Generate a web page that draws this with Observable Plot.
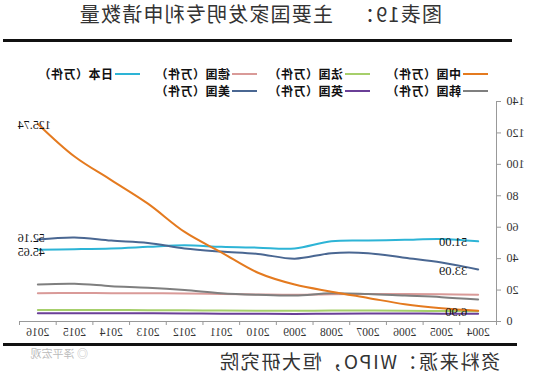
<!DOCTYPE html>
<html><head><meta charset="utf-8">
<script src="https://cdn.jsdelivr.net/npm/d3@7"></script>
<script src="https://cdn.jsdelivr.net/npm/@observablehq/plot@0.6"></script>
<style>
body{margin:0;background:#fff;}
#wrap{position:relative;width:550px;height:376px;overflow:hidden;transform:scaleX(-1);font-family:"Noto Sans CJK SC",sans-serif;background:#fff;}
.abs{position:absolute;white-space:nowrap;}
.title{font-size:20px;line-height:22px;color:#333;letter-spacing:1.2px;}
.rule{position:absolute;height:3px;background:#111;}
.leg{position:absolute;font-size:12px;font-weight:bold;line-height:14px;color:#111;letter-spacing:0.5px;white-space:nowrap;}
.sw{position:absolute;height:2px;width:25px;}
.src{font-size:19px;line-height:20px;color:#333;letter-spacing:1.6px;}
.wm{font-size:11px;color:#bbb;}
#chart{position:absolute;left:0;top:95px;}
</style></head><body>
<div id="wrap">
  <div class="abs title" style="left:108px;top:3px;">图表19：</div>
  <div class="abs title" style="left:217px;top:3px;">主要国家发明专利申请数量</div>
  <div class="rule" style="left:38px;width:509px;top:39px;"></div>
  <div id="legend"></div>
  <div id="chart"></div>
  <div class="rule" style="left:33px;width:514px;top:343px;"></div>
  <div class="abs wm" style="left:462px;top:345px;">◎ 泽平宏观</div>
  <div class="abs src" style="left:50px;top:351px;">资料来源：WIPO，恒大研究院</div>
</div>
<script>
const years = [2004, 2005, 2006, 2007, 2008, 2009, 2010, 2011, 2012, 2013, 2014, 2015, 2016];
const china   = [6.90, 8.5, 11.0, 15.0, 19.0, 23.5, 31.0, 44.0, 57.0, 75.0, 90.0, 105.0, 125.74];
const usa     = [33.09, 37.5, 40.5, 43.5, 43.5, 40.0, 43.0, 44.5, 46.5, 50.0, 51.5, 53.5, 52.16];
const japan   = [51.00, 52.5, 52.0, 51.5, 51.0, 46.5, 47.0, 47.5, 48.5, 47.5, 46.5, 46.0, 45.65];
const korea   = [14.0, 15.5, 16.5, 17.5, 18.0, 16.5, 17.0, 18.0, 20.0, 21.5, 22.5, 24.0, 23.5];
const germany = [17.0, 17.3, 17.5, 17.5, 17.3, 17.0, 17.2, 17.5, 17.8, 18.0, 18.0, 18.2, 18.0];
const france  = [6.6, 6.7, 6.8, 7.0, 7.0, 6.8, 6.9, 7.0, 7.1, 7.2, 7.3, 7.3, 7.3];
const uk      = [5.0, 5.0, 5.1, 5.1, 5.0, 4.8, 4.9, 5.0, 5.1, 5.2, 5.2, 5.3, 5.3];
const yTicks = [0, 20, 40, 60, 80, 100, 120, 140];

const seriesNames = ["日本（万件）", "德国（万件）", "法国（万件）", "韩国（万件）", "英国（万件）", "美国（万件）", "中国（万件）"];
const seriesColors = ["#2db4d6", "#d99a98", "#a6cf6b", "#7f7f7f", "#6a3f97", "#4a6792", "#e47a1f"];
const seriesValues = [japan, germany, france, korea, uk, usa, china];

const legendOrder = [["中国（万件）", "法国（万件）", "德国（万件）", "日本（万件）"], ["韩国（万件）", "英国（万件）", "美国（万件）"]];
const colX = [62, 180, 293, 410];
const rowY = [74, 91];
const legend = document.getElementById("legend");
legendOrder.forEach((row, r) => row.forEach((name, c) => {
  const color = seriesColors[seriesNames.indexOf(name)];
  const sw = document.createElement("div");
  sw.className = "sw"; sw.style.left = colX[c] + "px"; sw.style.top = (rowY[r] - 1) + "px"; sw.style.background = color;
  legend.appendChild(sw);
  const t = document.createElement("div");
  t.className = "leg"; t.textContent = name; t.style.left = (colX[c] + 27) + "px"; t.style.top = (rowY[r] - 7) + "px";
  legend.appendChild(t);
}));

const rows = [];
seriesNames.forEach((name, i) => years.forEach((y, j) => rows.push({series: name, year: y, value: seriesValues[i][j]})));

const endLabels = [
  {year: 2016, value: china[12], text: china[12].toFixed(2), dy: 1},
  {year: 2016, value: usa[12], text: usa[12].toFixed(2), dy: -1},
  {year: 2016, value: japan[12], text: japan[12].toFixed(2), dy: 2}
];
const startLabels = [
  {year: 2004, value: japan[0], text: japan[0].toFixed(2)},
  {year: 2004, value: usa[0], text: usa[0].toFixed(2)},
  {year: 2004, value: china[0], text: china[0].toFixed(2)}
];
const bounds = d3.range(2003.5, 2017, 1);

const chart = Plot.plot({
  width: 550, height: 250,
  marginLeft: 53, marginRight: 20, marginTop: 6, marginBottom: 24,
  style: {fontFamily: "Liberation Serif", fontSize: "12px", color: "#333", background: "transparent"},
  x: {domain: [2003.5, 2016.5]},
  y: {domain: [0, 140]},
  color: {domain: seriesNames, range: seriesColors},
  marks: [
    Plot.ruleY([0], {stroke: "#999"}),
    Plot.ruleX([2003.5], {y1: 0, y2: 140, stroke: "#999"}),
    Plot.axisY({ticks: yTicks, tickSize: 4, tickPadding: 6, stroke: "#999", label: null, fontSize: 12}),
    Plot.axisX({ticks: bounds, tickSize: 4, tickFormat: () => "", stroke: "#999", label: null}),
    Plot.axisX({ticks: years, tickSize: 0, tickPadding: 6, tickFormat: d => String(d), label: null, fontSize: 11.5}),
    Plot.line(rows, {x: "year", y: "value", z: "series", stroke: "series", strokeWidth: 2, curve: "catmull-rom"}),
    ...endLabels.map(d => Plot.text([d], {x: "year", y: "value", text: "text", textAnchor: "end", dx: 20, dy: d.dy, fontSize: 12, fill: "#111"})),
    Plot.text(startLabels, {x: "year", y: "value", text: "text", textAnchor: "start", dx: 11, dy: 1, fontSize: 12.5, fill: "#111"})
  ]
});
document.getElementById("chart").appendChild(chart);
</script>
</body></html>
